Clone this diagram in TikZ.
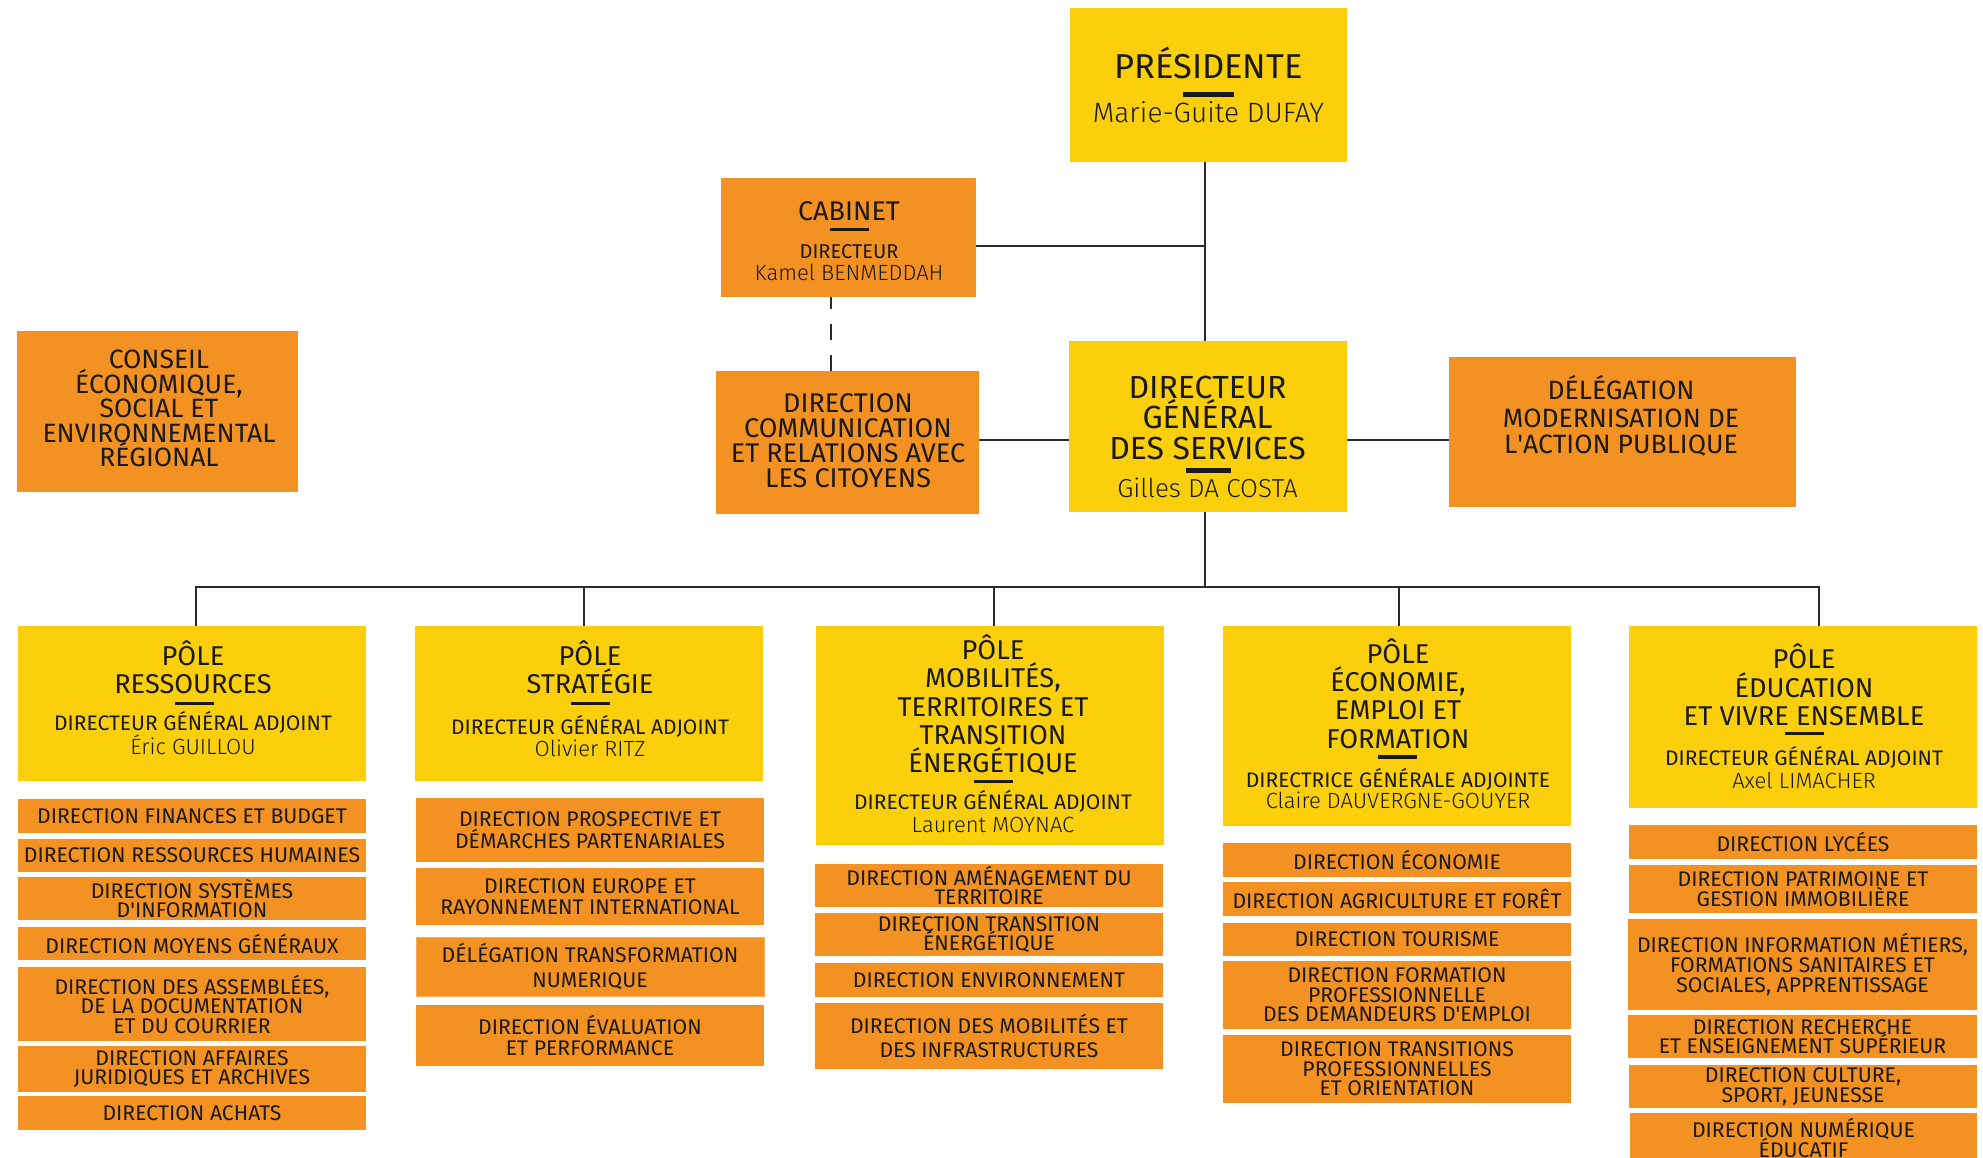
\documentclass[tikz,border=0pt]{standalone}
\usepackage{fontspec}
\setmainfont{Fira Sans}
\newfontfamily\lightf{Fira Sans Light}
\definecolor{yel}{HTML}{FCCF0C}
\definecolor{org}{HTML}{F39122}
\definecolor{orgline}{HTML}{F6AE5E}
\definecolor{ink}{HTML}{1A1A1A}
\definecolor{wire}{HTML}{2B2B2B}
\newcommand\tightlines{\lineskiplimit -50pt\relax}
\tikzset{
  box/.style={rectangle, inner sep=0pt, outer sep=0pt, anchor=north west, align=center, text=ink},
  ybox/.style={box, fill=yel},
  obox/.style={box, fill=org},
  sub/.style={obox, font={\fontsize{21.2}{#1}\selectfont\tightlines}},
  sub/.default=19.5,
  lbl/.style={anchor=base, inner sep=0pt, outer sep=0pt, text=ink},
  fpres/.style={lbl, font=\fontsize{34.5}{34.5}\selectfont},
  fcabt/.style={lbl, font=\fontsize{27}{27}\selectfont},
  fceser/.style={lbl, font=\fontsize{26.5}{26.5}\selectfont},
  fcomm/.style={lbl, font=\fontsize{27}{27}\selectfont},
  fdeleg/.style={lbl, font=\fontsize{26.5}{26.5}\selectfont},
  fdgs/.style={lbl, font=\fontsize{32}{32}\selectfont},
  fpole/.style={lbl, font=\fontsize{27.2}{27.2}\selectfont},
  fdga/.style={lbl, font=\fontsize{21}{21}\selectfont},
  fname/.style={lbl, font=\lightf\fontsize{22}{22}\selectfont},
  fcab/.style={lbl, font=\fontsize{20}{20}\selectfont},
  bar/.style={fill=ink},
  conn/.style={draw=wire, line width=2pt},
  dashconn/.style={conn, dash pattern=on 16pt off 15pt},
}
\newcommand\bx[7]{\node[#2, minimum width={(#5-#3)*1pt}, minimum height={(#6-#4)*1pt}] (#1) at (#3,#4) {#7};}
\newcommand\ap{\textquotesingle}
\begin{document}
\begin{tikzpicture}[x=1pt,y=-1pt]
\useasboundingbox[fill=white] (0,0) rectangle (1983,1158);

% ---------- top boxes ----------
\bx{pres}{ybox}{1070}{8}{1347}{162}{}
\node[fpres] (presT) at (1208.5,79) {PRÉSIDENTE};
\fill[bar] (1183,92) rectangle (1234,97);
\node[fname, font=\lightf\fontsize{28}{28}\selectfont] (presN) at (1208.5,123) {Marie-Guite DUFAY};

\bx{cab}{obox}{721}{178}{976}{297}{}
\node[fcabt] (cabT) at (849,221) {CABINET};
\fill[bar] (830,228) rectangle (869,231.5);
\node[fcab] (cabD) at (849,259) {DIRECTEUR};
\node[fname] (cabN) at (849,280) {Kamel BENMEDDAH};

\bx{ceser}{obox}{17}{331}{298}{492}{}
\node[fceser] (ceser1) at (159,368) {CONSEIL};
\node[fceser] (ceser2) at (159,393) {ÉCONOMIQUE,};
\node[fceser] (ceser3) at (159,417) {SOCIAL ET};
\node[fceser] (ceser4) at (159,442) {ENVIRONNEMENTAL};
\node[fceser] (ceser5) at (159,466) {RÉGIONAL};

\bx{comm}{obox}{716}{371}{979}{514}{}
\node[fcomm] (comm1) at (848,412.5) {DIRECTION};
\node[fcomm] (comm2) at (848,437.5) {COMMUNICATION};
\node[fcomm] (comm3) at (848,462.5) {ET RELATIONS AVEC};
\node[fcomm] (comm4) at (848,487) {LES CITOYENS};

\bx{dgs}{ybox}{1069}{341}{1347}{512}{}
\node[fdgs] (dgs1) at (1207.5,398) {DIRECTEUR};
\node[fdgs] (dgs2) at (1207.5,428.5) {GÉNÉRAL};
\node[fdgs] (dgs3) at (1207.5,459) {DES SERVICES};
\fill[bar] (1186,468) rectangle (1231,472.5);
\node[fname, font=\lightf\fontsize{26}{26}\selectfont] (dgsN) at (1207.5,497) {Gilles DA COSTA};

\bx{deleg}{obox}{1449}{357}{1796}{507}{}
\node[fdeleg] (deleg1) at (1621,399) {DÉLÉGATION};
\node[fdeleg] (deleg2) at (1621,427.5) {MODERNISATION DE};
\node[fdeleg] (deleg3) at (1621,453.5) {L\ap ACTION PUBLIQUE};

% ---------- poles ----------
\bx{res}{ybox}{18}{626}{366}{781}{}
\node[fpole] (resT1) at (193,665) {PÔLE};
\node[fpole] (resT2) at (193,693) {RESSOURCES};
\fill[bar] (174.5,701.5) rectangle (213.5,705);
\node[fdga] (resD) at (193,730.5) {DIRECTEUR GÉNÉRAL ADJOINT};
\node[fname] (resN) at (193,754) {Éric GUILLOU};

\bx{str}{ybox}{415}{626}{763}{781}{}
\node[fpole] (strT1) at (590,665) {PÔLE};
\node[fpole] (strT2) at (590,693.5) {STRATÉGIE};
\fill[bar] (571,701.5) rectangle (610,705);
\node[fdga] (strD) at (590,734.5) {DIRECTEUR GÉNÉRAL ADJOINT};
\node[fname] (strN) at (590,756.5) {Olivier RITZ};

\bx{mob}{ybox}{816}{626}{1164}{845}{}
\node[fpole] (mobT1) at (993,659) {PÔLE};
\node[fpole] (mobT2) at (993,687) {MOBILITÉS,};
\node[fpole] (mobT3) at (993,716) {TERRITOIRES ET};
\node[fpole] (mobT4) at (993,744) {TRANSITION};
\node[fpole] (mobT5) at (993,772) {ÉNERGÉTIQUE};
\fill[bar] (974,779.5) rectangle (1013,783);
\node[fdga] (mobD) at (993,809) {DIRECTEUR GÉNÉRAL ADJOINT};
\node[fname] (mobN) at (993,832) {Laurent MOYNAC};

\bx{eco}{ybox}{1223}{626}{1571}{826}{}
\node[fpole] (ecoT1) at (1398,663) {PÔLE};
\node[fpole] (ecoT2) at (1398,691) {ÉCONOMIE,};
\node[fpole] (ecoT3) at (1398,719) {EMPLOI ET};
\node[fpole] (ecoT4) at (1398,748) {FORMATION};
\fill[bar] (1378,755) rectangle (1417,758.5);
\node[fdga] (ecoD) at (1398,787) {DIRECTRICE GÉNÉRALE ADJOINTE};
\node[fname] (ecoN) at (1398,808) {Claire DAUVERGNE-GOUYER};

\bx{edu}{ybox}{1629}{626}{1977}{808}{}
\node[fpole] (eduT1) at (1804,668) {PÔLE};
\node[fpole] (eduT2) at (1804,697) {ÉDUCATION};
\node[fpole] (eduT3) at (1804,725) {ET VIVRE ENSEMBLE};
\fill[bar] (1785,731.5) rectangle (1823.5,735);
\node[fdga] (eduD) at (1804,765) {DIRECTEUR GÉNÉRAL ADJOINT};
\node[fname] (eduN) at (1804,788) {Axel LIMACHER};

% ---------- directions ----------
\bx{r1}{sub}{18}{799}{366}{833}{DIRECTION FINANCES ET BUDGET}
\bx{r2}{sub}{18}{839}{366}{872}{DIRECTION RESSOURCES HUMAINES}
\bx{r3}{sub}{18}{877}{366}{920}{DIRECTION SYSTÈMES\\D\ap INFORMATION}
\bx{r4}{sub}{18}{927}{366}{960}{DIRECTION MOYENS GÉNÉRAUX}
\bx{r5}{sub}{18}{967}{366}{1041}{DIRECTION DES ASSEMBLÉES,\\DE LA DOCUMENTATION\\ET DU COURRIER}
\bx{r6}{sub}{18}{1046}{366}{1092}{DIRECTION AFFAIRES\\JURIDIQUES ET ARCHIVES}
\bx{r7}{sub}{18}{1096}{366}{1130}{DIRECTION ACHATS}

\bx{s1}{sub=21.5}{416}{798}{764}{862}{DIRECTION PROSPECTIVE ET\\DÉMARCHES PARTENARIALES}
\bx{s2}{sub=21.5}{416}{868}{764}{925}{DIRECTION EUROPE ET\\RAYONNEMENT INTERNATIONAL}
\bx{s3}{sub=25, draw=orgline, line width=1pt}{416}{937}{764}{996}{DÉLÉGATION TRANSFORMATION\\NUMERIQUE}
\bx{s4}{sub=21}{416}{1005}{764}{1066}{DIRECTION ÉVALUATION\\ET PERFORMANCE}

\bx{m1}{sub=18.5}{815}{864}{1163}{907}{DIRECTION AMÉNAGEMENT DU\\TERRITOIRE}
\bx{m2}{sub=18.5}{815}{913}{1163}{956}{DIRECTION TRANSITION\\ÉNERGÉTIQUE}
\bx{m3}{sub}{815}{963}{1163}{997}{DIRECTION ENVIRONNEMENT}
\bx{m4}{sub=24}{815}{1003}{1163}{1069}{DIRECTION DES MOBILITÉS ET\\DES INFRASTRUCTURES}

\bx{e1}{sub}{1223}{843}{1571}{877}{DIRECTION ÉCONOMIE}
\bx{e2}{sub}{1223}{882}{1571}{916}{DIRECTION AGRICULTURE ET FORÊT}
\bx{e3}{sub}{1223}{923}{1571}{956}{DIRECTION TOURISME}
\bx{e4}{sub}{1223}{961}{1571}{1029}{DIRECTION FORMATION\\PROFESSIONNELLE\\DES DEMANDEURS D\ap EMPLOI}
\bx{e5}{sub}{1223}{1035}{1571}{1103}{DIRECTION TRANSITIONS\\PROFESSIONNELLES\\ET ORIENTATION}

\bx{d1}{sub}{1629}{825}{1977}{859}{DIRECTION LYCÉES}
\bx{d2}{sub}{1629}{865}{1977}{913}{DIRECTION PATRIMOINE ET\\GESTION IMMOBILIÈRE}
\bx{d3}{sub=20}{1628}{919}{1977}{1010}{DIRECTION INFORMATION MÉTIERS,\\FORMATIONS SANITAIRES ET\\SOCIALES, APPRENTISSAGE}
\bx{d4}{sub}{1628}{1015}{1977}{1058}{DIRECTION RECHERCHE\\ET ENSEIGNEMENT SUPÉRIEUR}
\bx{d5}{sub=20}{1629}{1065}{1977}{1108}{DIRECTION CULTURE,\\SPORT, JEUNESSE}
\bx{d6}{sub=20}{1630}{1113}{1977}{1163}{DIRECTION NUMÉRIQUE\\ÉDUCATIF}

% ---------- connectors ----------
\coordinate (spine) at (1204.5,0);
\coordinate (cabY) at (0,246);
\coordinate (midY) at (0,440);
\coordinate (dashX) at (831,0);
\coordinate (busL) at (196,587);
\coordinate (busR) at (1818.5,587);
\coordinate (busS) at (584,587);
\coordinate (busM) at (994,587);
\coordinate (busE) at (1399,587);

\draw[conn] (pres.south -| spine) -- (dgs.north -| spine);
\draw[conn] (cab.east |- cabY) -- (spine |- cabY);
\draw[conn] (comm.east |- midY) -- (dgs.west |- midY);
\draw[conn] (dgs.east |- midY) -- (deleg.west |- midY);
\draw[dashconn] (comm.north -| dashX) -- (cab.south -| dashX);
\draw[conn] (dgs.south -| spine) -- (busL -| spine);
\draw[conn] (res.north -| busL) -- (busL) -- (busR) -- (edu.north -| busR);
\draw[conn] (busS) -- (str.north -| busS);
\draw[conn] (busM) -- (mob.north -| busM);
\draw[conn] (busE) -- (eco.north -| busE);
\end{tikzpicture}
\end{document}
